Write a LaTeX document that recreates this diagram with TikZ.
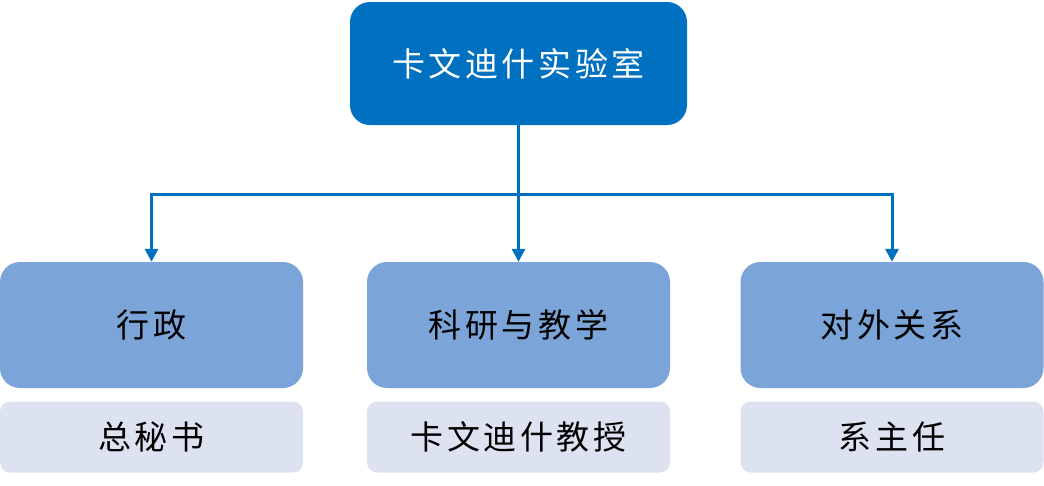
\documentclass[tikz,border=0pt]{standalone}
\usepackage{fontspec}
\newfontfamily\cjk{Noto Sans CJK SC}
\usetikzlibrary{arrows.meta}
\definecolor{topblue}{HTML}{0070C0}
\definecolor{midblue}{HTML}{7BA5D8}
\definecolor{subgray}{HTML}{DDE2F1}
\tikzset{
  cjkfont/.style={font=\cjk\addfontfeature{LetterSpace=11}\fontsize{33}{38}\selectfont},
  topbox/.style={rectangle, rounded corners=20pt, fill=topblue, text=white, minimum width=337pt, minimum height=123pt, inner sep=0pt, cjkfont},
  midbox/.style={rectangle, rounded corners=20pt, fill=midblue, text=black, minimum width=303pt, minimum height=126pt, inner sep=0pt, cjkfont},
  subbox/.style={rectangle, rounded corners=10pt, fill=subgray, text=black, minimum width=303pt, minimum height=71pt, inner sep=0pt, cjkfont},
  arr/.style={draw=topblue, line width=3pt, -{Triangle[width=13pt,length=13pt]}}
}
\begin{document}
\begin{tikzpicture}[x=1pt,y=-1pt]
\useasboundingbox (0,0) rectangle (1044,485);
\node[topbox] (top) at (518.5,63.5) {卡文迪什实验室};
\node[midbox] (adm) at (151.5,325) {行政};
\node[midbox] (res) at (518.5,325) {科研与教学};
\node[midbox] (ext) at (892,325) {对外关系};
\node[subbox] (s1) at (151.5,437) {总秘书};
\node[subbox] (s2) at (518.5,437) {卡文迪什教授};
\node[subbox] (s3) at (892,437) {系主任};
\coordinate (bus) at (518.5,194);
\draw[arr] (top.south) -- (res.north);
\draw[arr] (bus) -| (adm.north);
\draw[arr] (bus) -| (ext.north);
\end{tikzpicture}
\end{document}
